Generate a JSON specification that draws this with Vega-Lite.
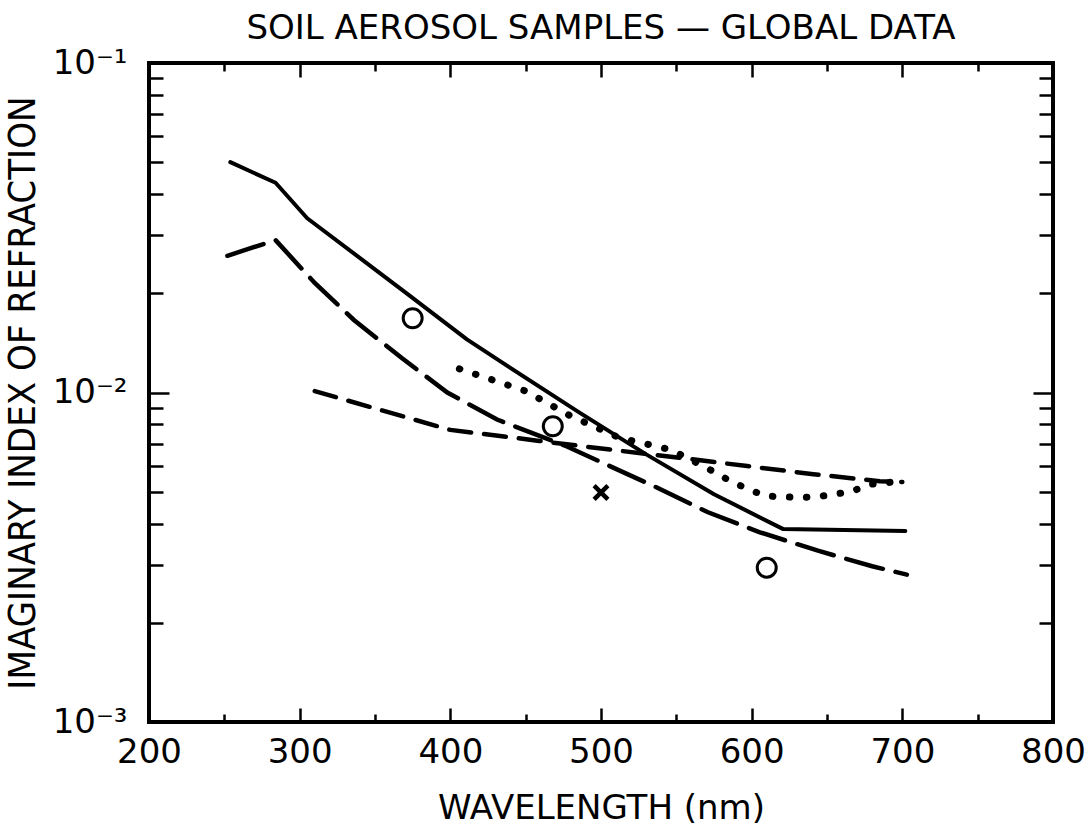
{
  "$schema": "https://vega.github.io/schema/vega-lite/v6.json",
  "width": 904,
  "height": 659,
  "autosize": {"type": "none"},
  "padding": {"left": 149, "top": 63, "right": 35, "bottom": 111},
  "background": "white",
  "config": {
    "font": "DejaVu Sans",
    "view": {"stroke": "black", "strokeWidth": 4},
    "axis": {
      "domain": false,
      "grid": false,
      "tickColor": "black",
      "tickWidth": 2.5,
      "labelColor": "black",
      "labelFont": "DejaVu Sans",
      "labelFontSize": 34,
      "titleColor": "black",
      "titleFont": "DejaVu Sans",
      "titleFontWeight": "normal",
      "titleFontSize": 34
    }
  },
  "title": {
    "text": "SOIL  AEROSOL  SAMPLES — GLOBAL  DATA",
    "font": "DejaVu Sans",
    "fontSize": 34,
    "fontWeight": "normal",
    "color": "black",
    "anchor": "middle",
    "offset": 0
  },
  "datasets": {
    "lines": [
      {"series": "solid", "wavelength": 254, "k": 0.050},
      {"series": "solid", "wavelength": 284, "k": 0.0433},
      {"series": "solid", "wavelength": 305, "k": 0.0338},
      {"series": "solid", "wavelength": 371, "k": 0.0200},
      {"series": "solid", "wavelength": 411, "k": 0.0145},
      {"series": "solid", "wavelength": 433, "k": 0.01245},
      {"series": "solid", "wavelength": 486, "k": 0.00867},
      {"series": "solid", "wavelength": 530, "k": 0.00649},
      {"series": "solid", "wavelength": 575, "k": 0.00491},
      {"series": "solid", "wavelength": 621, "k": 0.00385},
      {"series": "solid", "wavelength": 702, "k": 0.0038},
      {"series": "longdash", "wavelength": 252, "k": 0.026},
      {"series": "longdash", "wavelength": 284, "k": 0.029},
      {"series": "longdash", "wavelength": 310, "k": 0.0215},
      {"series": "longdash", "wavelength": 336, "k": 0.0166},
      {"series": "longdash", "wavelength": 368, "k": 0.0127},
      {"series": "longdash", "wavelength": 398, "k": 0.0100},
      {"series": "longdash", "wavelength": 431, "k": 0.00828},
      {"series": "longdash", "wavelength": 477, "k": 0.00687},
      {"series": "longdash", "wavelength": 501, "k": 0.00612},
      {"series": "longdash", "wavelength": 535, "k": 0.0052},
      {"series": "longdash", "wavelength": 571, "k": 0.00433},
      {"series": "longdash", "wavelength": 605, "k": 0.00377},
      {"series": "longdash", "wavelength": 644, "k": 0.00331},
      {"series": "longdash", "wavelength": 680, "k": 0.00297},
      {"series": "longdash", "wavelength": 703, "k": 0.0028},
      {"series": "dash", "wavelength": 310, "k": 0.0101},
      {"series": "dash", "wavelength": 353, "k": 0.00887},
      {"series": "dash", "wavelength": 400, "k": 0.0077},
      {"series": "dash", "wavelength": 433, "k": 0.00738},
      {"series": "dash", "wavelength": 459, "k": 0.00713},
      {"series": "dash", "wavelength": 506, "k": 0.00671},
      {"series": "dash", "wavelength": 552, "k": 0.00634},
      {"series": "dash", "wavelength": 597, "k": 0.00598},
      {"series": "dash", "wavelength": 641, "k": 0.00565},
      {"series": "dash", "wavelength": 685, "k": 0.00538},
      {"series": "dash", "wavelength": 700, "k": 0.00535},
      {"series": "dotted", "wavelength": 406, "k": 0.0118},
      {"series": "dotted", "wavelength": 450, "k": 0.0101},
      {"series": "dotted", "wavelength": 480, "k": 0.00848},
      {"series": "dotted", "wavelength": 512, "k": 0.00729},
      {"series": "dotted", "wavelength": 546, "k": 0.00671},
      {"series": "dotted", "wavelength": 568, "k": 0.00598},
      {"series": "dotted", "wavelength": 588, "k": 0.00532},
      {"series": "dotted", "wavelength": 609, "k": 0.00485},
      {"series": "dotted", "wavelength": 632, "k": 0.0048},
      {"series": "dotted", "wavelength": 644, "k": 0.00483},
      {"series": "dotted", "wavelength": 655, "k": 0.00491},
      {"series": "dotted", "wavelength": 667, "k": 0.00502},
      {"series": "dotted", "wavelength": 678, "k": 0.00526},
      {"series": "dotted", "wavelength": 699, "k": 0.00538}
    ],
    "pts": [
      {"kind": "circle", "wavelength": 375, "k": 0.0168},
      {"kind": "circle", "wavelength": 468, "k": 0.0079},
      {"kind": "circle", "wavelength": 610, "k": 0.00294},
      {"kind": "cross", "wavelength": 500, "k": 0.00497}
    ]
  },
  "layer": [
    {
      "data": {"name": "lines"},
      "transform": [{"filter": "datum.series === 'solid'"}],
      "mark": {"type": "line", "color": "black", "strokeWidth": 4, "strokeJoin": "round", "strokeCap": "round"},
      "encoding": {
        "x": {
          "field": "wavelength", "type": "quantitative",
          "scale": {"domain": [200, 800], "nice": false, "zero": false},
          "axis": {
            "orient": "bottom",
            "values": [200, 250, 300, 350, 400, 450, 500, 550, 600, 650, 700, 750, 800],
            "tickSize": {"condition": {"test": "datum.value % 100 === 0", "value": -14}, "value": -8},
            "labelExpr": "datum.value % 100 === 0 ? datum.label : ''",
            "labelPadding": 27,
            "labelFlush": false,
            "labelOverlap": false,
            "title": "WAVELENGTH  (nm)",
            "titlePadding": 16
          }
        },
        "y": {
          "field": "k", "type": "quantitative",
          "scale": {"type": "log", "domain": [0.001, 0.1], "nice": false},
          "axis": {
            "orient": "left",
            "values": [0.001, 0.002, 0.003, 0.004, 0.005, 0.006, 0.007, 0.008, 0.009, 0.01, 0.02, 0.03, 0.04, 0.05, 0.06, 0.07, 0.08, 0.09, 0.1],
            "tickSize": {"condition": {"test": "abs(log(datum.value)/LN10 - round(log(datum.value)/LN10)) < 0.001", "value": -20}, "value": -14},
            "labelExpr": "abs(log(datum.value)/LN10 - round(log(datum.value)/LN10)) < 0.001 ? (round(log(datum.value)/LN10) == -1 ? '10⁻¹' : round(log(datum.value)/LN10) == -2 ? '10⁻²' : '10⁻³') : ''",
            "labelPadding": 42,
            "labelFlush": false,
            "labelOverlap": false,
            "title": "IMAGINARY INDEX OF REFRACTION",
            "titleFont": "DejaVu Sans Condensed",
            "titleFontSize": 38,
            "titlePadding": 10
          }
        }
      }
    },
    {
      "data": {"name": "lines"},
      "transform": [{"filter": "datum.series === 'longdash'"}],
      "mark": {"type": "line", "color": "black", "strokeWidth": 4.5, "strokeDash": [38, 13], "strokeCap": "round"},
      "encoding": {
        "x": {
          "field": "wavelength", "type": "quantitative",
          "axis": {
            "orient": "top",
            "values": [200, 250, 300, 350, 400, 450, 500, 550, 600, 650, 700, 750, 800],
            "tickSize": {"condition": {"test": "datum.value % 100 === 0", "value": -14}, "value": -8},
            "labels": false,
            "title": null
          }
        },
        "y": {
          "field": "k", "type": "quantitative",
          "axis": {
            "orient": "right",
            "values": [0.001, 0.002, 0.003, 0.004, 0.005, 0.006, 0.007, 0.008, 0.009, 0.01, 0.02, 0.03, 0.04, 0.05, 0.06, 0.07, 0.08, 0.09, 0.1],
            "tickSize": {"condition": {"test": "abs(log(datum.value)/LN10 - round(log(datum.value)/LN10)) < 0.001", "value": -20}, "value": -14},
            "labels": false,
            "title": null
          }
        }
      }
    },
    {
      "data": {"name": "lines"},
      "transform": [{"filter": "datum.series === 'dash'"}],
      "mark": {"type": "line", "color": "black", "strokeWidth": 4.5, "strokeDash": [22, 13], "strokeCap": "round"},
      "encoding": {
        "x": {"field": "wavelength", "type": "quantitative", "axis": null},
        "y": {"field": "k", "type": "quantitative", "axis": null}
      }
    },
    {
      "data": {"name": "lines"},
      "transform": [{"filter": "datum.series === 'dotted'"}],
      "mark": {"type": "line", "color": "black", "strokeWidth": 7, "strokeDash": [0.5, 16.5], "strokeCap": "round"},
      "encoding": {
        "x": {"field": "wavelength", "type": "quantitative", "axis": null},
        "y": {"field": "k", "type": "quantitative", "axis": null}
      }
    },
    {
      "data": {"name": "pts"},
      "transform": [{"filter": "datum.kind === 'circle'"}],
      "mark": {"type": "point", "shape": "circle", "filled": false, "color": "black", "strokeWidth": 3, "size": 360, "opacity": 1},
      "encoding": {
        "x": {"field": "wavelength", "type": "quantitative", "axis": null},
        "y": {"field": "k", "type": "quantitative", "axis": null}
      }
    },
    {
      "data": {"name": "pts"},
      "transform": [{"filter": "datum.kind === 'cross'"}],
      "mark": {"type": "point", "shape": "M-1,-1L1,1M1,-1L-1,1", "filled": false, "color": "black", "strokeWidth": 4.5, "size": 190, "opacity": 1},
      "encoding": {
        "x": {"field": "wavelength", "type": "quantitative", "axis": null},
        "y": {"field": "k", "type": "quantitative", "axis": null}
      }
    }
  ],
  "resolve": {"axis": {"x": "independent", "y": "independent"}}
}
